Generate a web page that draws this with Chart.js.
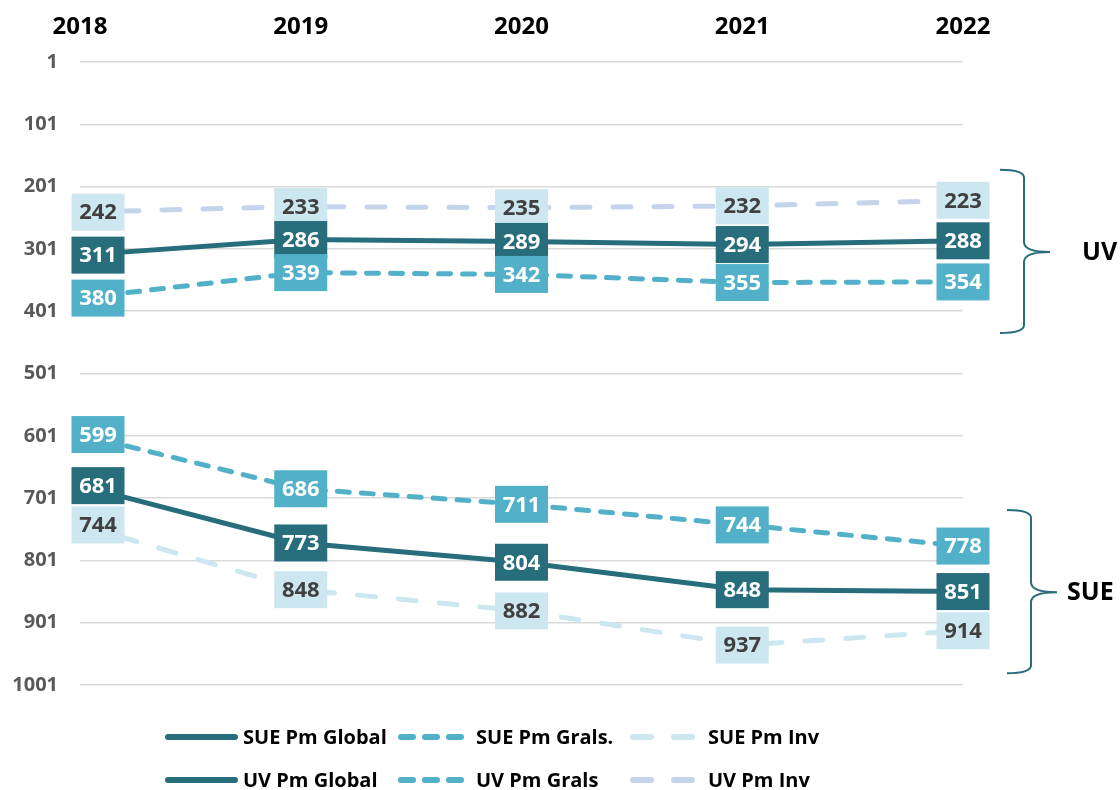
<!DOCTYPE html>
<html>
<head>
<meta charset="utf-8">
<script src="https://cdn.jsdelivr.net/npm/chart.js"></script>
<style>
  body { margin: 0; background: #fff; }
  #wrap { width: 1120px; height: 790px; }
</style>
</head>
<body>
<div id="wrap"><canvas id="myChart"></canvas></div>
<script>
// valeurs
const years = ['2018', '2019', '2020', '2021', '2022'];
const yTicks = [1, 101, 201, 301, 401, 501, 601, 701, 801, 901, 1001];

const suePmGlobal = [681, 773, 804, 848, 851];
const suePmGrals = [599, 686, 711, 744, 778];
const suePmInv = [744, 848, 882, 937, 914];
const uvPmGlobal = [311, 286, 289, 294, 288];
const uvPmGrals = [380, 339, 342, 355, 354];
const uvPmInv = [242, 233, 235, 232, 223];

const DARK = '#276d7c';
const MID = '#52b1c9';
const LIGHT = '#cde7f0';
const LIGHT_BLUE = '#c5d4ea';
const FONT = '"Open Sans", "Noto Sans", sans-serif';

const DASH_GRALS = [12, 12];
const DASH_INV = [18, 23];

function serie(label, data, color, dash, boxColor, textColor) {
  return {
    label: label,
    data: data,
    borderColor: color,
    backgroundColor: color,
    borderWidth: 5,
    borderDash: dash,
    borderCapStyle: dash.length ? 'round' : 'butt',
    pointRadius: 0,
    tension: 0,
    fill: false,
    boxColor: boxColor,
    textColor: textColor
  };
}

// étiquettes dans des boîtes colorées
const labelBoxes = {
  id: 'labelBoxes',
  afterDatasetsDraw(chart) {
    const ctx = chart.ctx;
    const order = [2, 5, 0, 3, 1, 4];
    ctx.save();
    ctx.font = 'bold 22px ' + FONT;
    ctx.textAlign = 'center';
    ctx.textBaseline = 'middle';
    order.forEach(i => {
      const ds = chart.data.datasets[i];
      const meta = chart.getDatasetMeta(i);
      meta.data.forEach((pt, j) => {
        const x = pt.x + (j === 0 ? 18 : 0);
        const y = pt.y;
        ctx.fillStyle = ds.boxColor;
        ctx.fillRect(x - 26.5, y - 18.5, 53, 37);
        ctx.fillStyle = ds.textColor;
        ctx.fillText(String(ds.data[j]), x, y + 1);
      });
    });
    ctx.restore();
  }
};

// accolades UV / SUE à droite
const brackets = {
  id: 'brackets',
  afterDraw(chart) {
    const ys = chart.scales.y;
    const ctx = chart.ctx;
    const groups = [
      { from: 174, mid: 306, to: 436, x: 1000, text: 'UV', tx: 1082 },
      { from: 720, mid: 852, to: 982, x: 1007, text: 'SUE', tx: 1067 }
    ];
    ctx.save();
    groups.forEach(g => {
      const top = ys.getPixelForValue(g.from);
      const mid = ys.getPixelForValue(g.mid);
      const bot = ys.getPixelForValue(g.to);
      const vx = g.x + 24;
      ctx.strokeStyle = DARK;
      ctx.lineWidth = 2;
      ctx.beginPath();
      ctx.moveTo(g.x, top);
      ctx.quadraticCurveTo(vx, top, vx, top + 8);
      ctx.lineTo(vx, mid - 10);
      ctx.quadraticCurveTo(vx, mid, vx + 26, mid);
      ctx.moveTo(vx + 26, mid);
      ctx.quadraticCurveTo(vx, mid, vx, mid + 10);
      ctx.lineTo(vx, bot - 8);
      ctx.quadraticCurveTo(vx, bot, g.x, bot);
      ctx.stroke();
      ctx.fillStyle = '#000';
      ctx.font = 'bold 25px ' + FONT;
      ctx.textBaseline = 'middle';
      ctx.fillText(g.text, g.tx, mid + 1);
    });
    ctx.restore();
  }
};

// légende en grille 3 x 2
const gridLegend = {
  id: 'gridLegend',
  afterDraw(chart) {
    const ctx = chart.ctx;
    const cols = [165, 398, 630];
    const rows = [737, 780];
    chart.data.datasets.forEach((ds, i) => {
      const x = cols[i % 3];
      const y = rows[Math.floor(i / 3)];
      ctx.save();
      ctx.strokeStyle = ds.borderColor;
      ctx.lineWidth = 6;
      ctx.lineCap = 'round';
      ctx.setLineDash(ds.borderDash);
      ctx.beginPath();
      ctx.moveTo(x + 3, y);
      ctx.lineTo(x + 70, y);
      ctx.stroke();
      ctx.setLineDash([]);
      ctx.fillStyle = '#000';
      ctx.font = 'bold 20px ' + FONT;
      ctx.textBaseline = 'middle';
      ctx.fillText(ds.label, x + 78, y + 1);
      ctx.restore();
    });
  }
};

const ctx = document.getElementById('myChart');

new Chart(ctx, {
  type: 'line',
  data: {
    labels: years,
    datasets: [
      serie('SUE Pm Global', suePmGlobal, DARK, [], DARK, '#fff'),
      serie('SUE Pm Grals.', suePmGrals, MID, DASH_GRALS, MID, '#fff'),
      serie('SUE Pm Inv', suePmInv, LIGHT, DASH_INV, LIGHT, '#404040'),
      serie('UV Pm Global', uvPmGlobal, DARK, [], DARK, '#fff'),
      serie('UV Pm Grals', uvPmGrals, MID, DASH_GRALS, MID, '#fff'),
      serie('UV Pm Inv', uvPmInv, LIGHT_BLUE, DASH_INV, LIGHT, '#404040')
    ]
  },
  options: {
    responsive: true,
    maintainAspectRatio: false,
    animation: false,
    layout: { padding: { left: 0, right: 157, top: 0, bottom: 105 } },
    plugins: {
      legend: { display: false },
      tooltip: { enabled: false }
    },
    scales: {
      x: {
        position: 'top',
        offset: false,
        grid: { display: false },
        border: { display: false },
        ticks: {
          color: '#000',
          font: { family: FONT, size: 24, weight: 'bold' },
          padding: 12,
          maxRotation: 0
        },
        afterFit(s) { s.height = 62; }
      },
      y: {
        reverse: true,
        min: 1,
        max: 1001,
        border: { display: false },
        grid: { color: '#d9d9d9', lineWidth: 1.5, drawTicks: false },
        ticks: {
          color: '#595959',
          font: { family: FONT, size: 20, weight: 'bold' },
          padding: 22,
          callback: v => String(v)
        },
        afterBuildTicks(s) { s.ticks = yTicks.map(v => ({ value: v })); },
        afterFit(s) { s.width = 80; }
      }
    }
  },
  plugins: [labelBoxes, brackets, gridLegend]
});
</script>
</body>
</html>
